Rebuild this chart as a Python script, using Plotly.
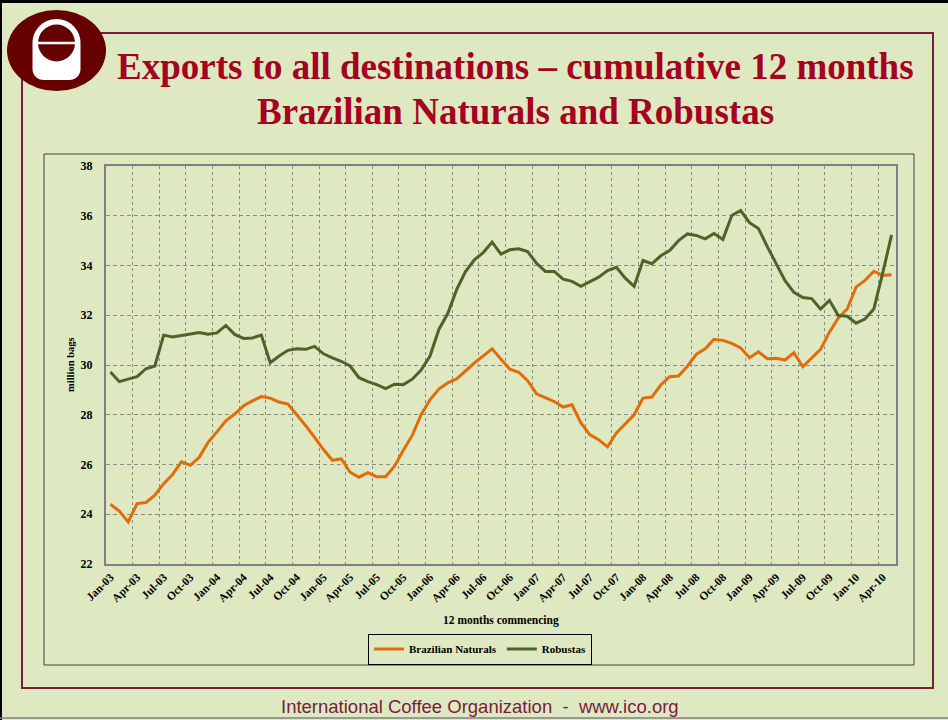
import math
import pandas as pd
import plotly.graph_objects as go

# ---------------- data ----------------
months = list(pd.date_range("2003-01-01", periods=89, freq="MS").strftime("%b-%y"))

brazilian_naturals = [
    24.40, 24.13, 23.69, 24.43, 24.47, 24.77, 25.23, 25.60, 26.11, 25.97,
    26.29, 26.89, 27.31, 27.76, 28.03, 28.36, 28.56, 28.73, 28.67, 28.51,
    28.43, 28.00, 27.56, 27.09, 26.60, 26.17, 26.23, 25.69, 25.49, 25.67,
    25.51, 25.51, 25.93, 26.57, 27.17, 28.00, 28.60, 29.03, 29.28, 29.44,
    29.77, 30.08, 30.37, 30.65, 30.23, 29.83, 29.71, 29.37, 28.84, 28.67,
    28.53, 28.31, 28.40, 27.67, 27.20, 27.00, 26.71, 27.27, 27.63, 28.00,
    28.67, 28.71, 29.20, 29.53, 29.56, 29.95, 30.43, 30.65, 31.03, 30.99,
    30.87, 30.69, 30.29, 30.53, 30.25, 30.27, 30.20, 30.49, 29.93, 30.29,
    30.63, 31.32, 31.89, 32.25, 33.13, 33.40, 33.77, 33.60, 33.63,
]

robustas = [
    29.72, 29.33, 29.43, 29.53, 29.85, 29.96, 31.20, 31.13, 31.19, 31.25,
    31.31, 31.24, 31.29, 31.59, 31.23, 31.07, 31.09, 31.20, 30.09, 30.36,
    30.59, 30.65, 30.63, 30.75, 30.45, 30.29, 30.15, 29.96, 29.49, 29.33,
    29.21, 29.05, 29.23, 29.21, 29.43, 29.80, 30.36, 31.43, 32.07, 33.03,
    33.76, 34.23, 34.52, 34.94, 34.46, 34.63, 34.67, 34.56, 34.09, 33.76,
    33.76, 33.45, 33.36, 33.16, 33.36, 33.53, 33.80, 33.93, 33.49, 33.16,
    34.20, 34.07, 34.39, 34.60, 35.00, 35.27, 35.21, 35.07, 35.29, 35.05,
    36.01, 36.21, 35.72, 35.49, 34.76, 34.09, 33.39, 32.92, 32.71, 32.67,
    32.25, 32.60, 31.99, 31.96, 31.68, 31.85, 32.25, 33.69, 35.23,
]

y_ticks = [22, 24, 26, 28, 30, 32, 34, 36, 38]

# ---------------- styling ----------------
W, H = 948, 720
L, R, T, B = 106, 896, 166, 564  # plot area in pixels
BG = "#DEE9C1"
ORANGE = "#E36C0A"
GREEN = "#4F6228"
MAROON = "#7A1C3A"
TITLE_RED = "#A50021"
LOGO = "#660000"
SERIF = "Liberation Serif, Times New Roman, serif"


def px(p):
    return (p - L) / (R - L)


def py(q):
    return (B - q) / (B - T)


fig = go.Figure()
fig.add_trace(go.Scatter(x=months, y=brazilian_naturals, name="Brazilian Naturals",
                         mode="lines", line=dict(color=ORANGE, width=3)))
fig.add_trace(go.Scatter(x=months, y=robustas, name="Robustas",
                         mode="lines", line=dict(color=GREEN, width=3)))

shapes = []
# outer black border (top & left) and bottom gray line
shapes.append(dict(type="rect", xref="paper", yref="paper", x0=px(0), x1=px(W), y0=py(0), y1=py(3),
                   fillcolor="black", line=dict(width=0), layer="below"))
shapes.append(dict(type="rect", xref="paper", yref="paper", x0=px(0), x1=px(2), y0=py(0), y1=py(H),
                   fillcolor="black", line=dict(width=0), layer="below"))
shapes.append(dict(type="line", xref="paper", yref="paper", x0=px(0), x1=px(W), y0=py(718), y1=py(718),
                   line=dict(color="#7F7F7F", width=1.5), layer="below"))
# maroon frame
shapes.append(dict(type="rect", xref="paper", yref="paper", x0=px(22), x1=px(933), y0=py(33), y1=py(688),
                   line=dict(color=MAROON, width=2), layer="below"))
# chart box
shapes.append(dict(type="rect", xref="paper", yref="paper", x0=px(44), x1=px(914), y0=py(154), y1=py(665),
                   line=dict(color="#404040", width=1), layer="below"))

# logo: maroon ellipse
shapes.append(dict(type="circle", xref="paper", yref="paper", x0=px(7), x1=px(106), y0=py(10), y1=py(91),
                   fillcolor=LOGO, line=dict(width=0)))
# white cup shape (arc top, straight sides, rounded bottom corners)
cx, cy, r = 56.5, 43.0, 24.0
pts = []
for k in range(0, 31):
    a = math.pi + math.pi * k / 30
    pts.append((cx + r * math.cos(a), cy + r * math.sin(a)))
rc = 11.0
bottom = 80.0
for k in range(0, 11):
    a = 0 + (math.pi / 2) * k / 10
    pts.append((cx + r - rc + rc * math.cos(a), bottom - rc + rc * math.sin(a)))
for k in range(0, 11):
    a = math.pi / 2 + (math.pi / 2) * k / 10
    pts.append((cx - r + rc + rc * math.cos(a), bottom - rc + rc * math.sin(a)))
path = "M " + " L ".join(f"{px(x):.5f},{py(y):.5f}" for x, y in pts) + " Z"
shapes.append(dict(type="path", xref="paper", yref="paper", path=path,
                   fillcolor="white", line=dict(width=0)))
# inner maroon circle
ri = 18.5
shapes.append(dict(type="circle", xref="paper", yref="paper", x0=px(cx - ri), x1=px(cx + ri),
                   y0=py(cy - ri), y1=py(cy + ri), fillcolor=LOGO, line=dict(width=0)))
# white bar across
shapes.append(dict(type="line", xref="paper", yref="paper", x0=px(cx - ri), x1=px(cx + ri),
                   y0=py(cy), y1=py(cy), line=dict(color="white", width=2.5)))

annotations = [
    dict(text="Exports to all destinations – cumulative 12 months", x=px(515), y=py(67),
         xref="paper", yref="paper", showarrow=False, xanchor="center", yanchor="middle",
         font=dict(family=SERIF, size=37, color=TITLE_RED, weight="bold")),
    dict(text="Brazilian Naturals and Robustas", x=px(515), y=py(111.5),
         xref="paper", yref="paper", showarrow=False, xanchor="center", yanchor="middle",
         font=dict(family=SERIF, size=37, color=TITLE_RED, weight="bold")),
    dict(text="million bags", x=px(70), y=py(365), xref="paper", yref="paper", showarrow=False,
         textangle=-90, xanchor="center", yanchor="middle",
         font=dict(family=SERIF, size=10.5, color="black", weight="bold")),
    dict(text="12 months commencing", x=px(501), y=py(620), xref="paper", yref="paper",
         showarrow=False, xanchor="center", yanchor="middle",
         font=dict(family=SERIF, size=11.5, color="black", weight="bold")),
    dict(text="International Coffee Organization\u00a0\u00a0-\u00a0\u00a0www.ico.org", x=px(480), y=py(706),
         xref="paper", yref="paper", showarrow=False, xanchor="center", yanchor="middle",
         font=dict(family="Liberation Sans, Arial, sans-serif", size=18.5, color=MAROON)),
]

fig.update_layout(
    width=W, height=H,
    margin=dict(l=L, r=W - R, t=T, b=H - B, pad=0),
    paper_bgcolor=BG, plot_bgcolor=BG,
    shapes=shapes, annotations=annotations,
    showlegend=True,
    legend=dict(orientation="h", x=px(480), y=py(649), xanchor="center", yanchor="middle",
                bordercolor="black", borderwidth=1, bgcolor=BG, itemwidth=30,
                font=dict(family=SERIF, size=11, color="black", weight="bold"),
                tracegroupgap=0),
    xaxis=dict(type="category", categoryorder="array", categoryarray=months,
               range=[-0.5, len(months) - 0.5], tickmode="linear", tick0=0, dtick=3,
               tickson="boundaries", ticks="", tickangle=-45,
               showgrid=True, gridcolor="#8A8A8A", gridwidth=1, griddash="3px,3px",
               showline=True, linecolor="#808080", linewidth=2, mirror=True,
               tickfont=dict(family=SERIF, size=11.5, color="black", weight="bold")),
    yaxis=dict(range=[22, 38], tickmode="array", tickvals=y_ticks,
               showgrid=True, gridcolor="#8A8A8A", gridwidth=1, griddash="4px,3px",
               zeroline=False, ticks="", ticklabelstandoff=9,
               showline=True, linecolor="#808080", linewidth=2, mirror=True,
               tickfont=dict(family=SERIF, size=12, color="black", weight="bold")),
)

fig.write_html(
    "out.html",
    config={"displayModeBar": False},
    post_script="document.body.style.margin='0';document.body.style.overflow='hidden';"
                "document.documentElement.style.overflow='hidden';",
)
